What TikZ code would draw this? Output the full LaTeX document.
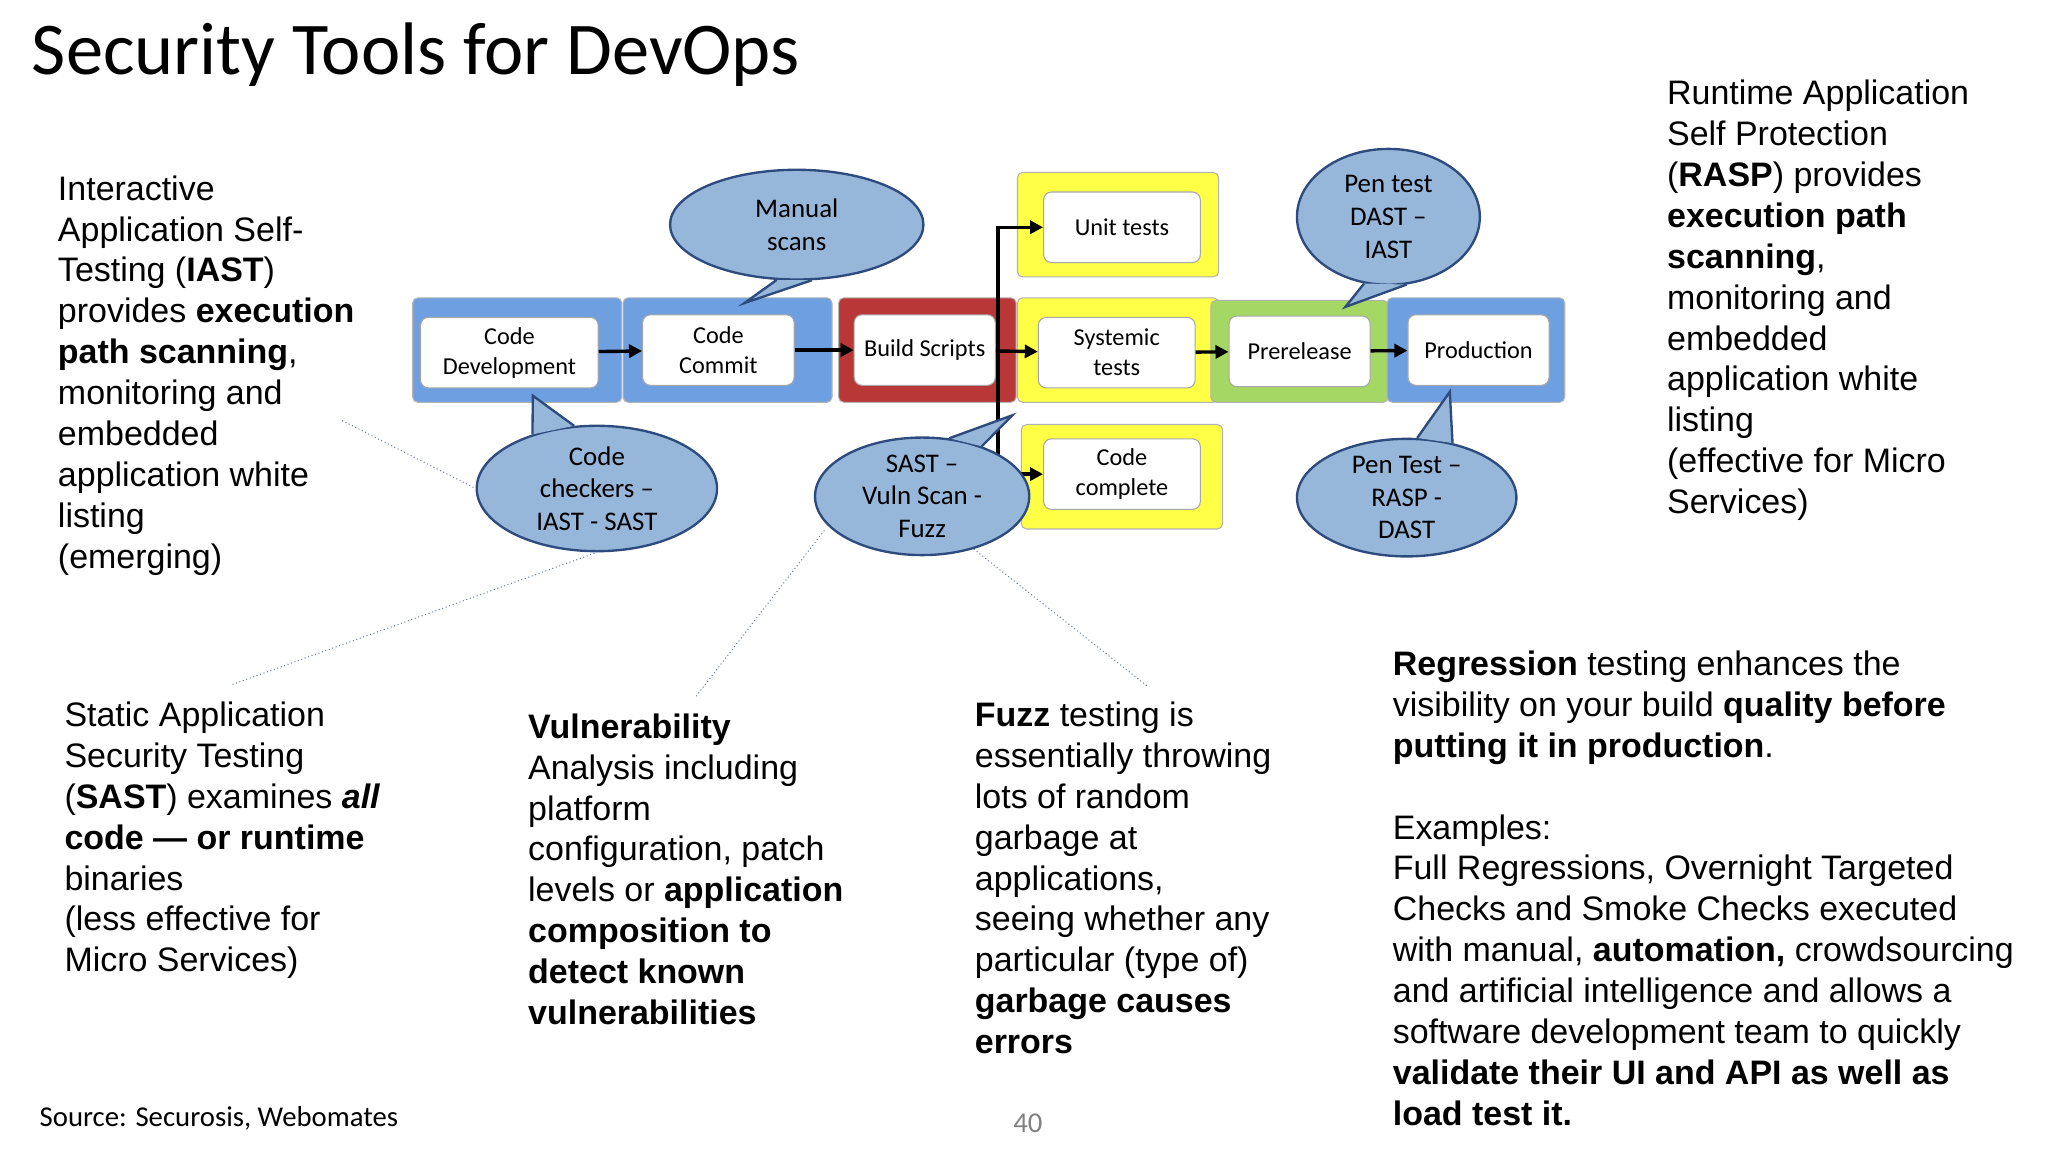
\documentclass[tikz,border=0pt]{standalone}
\usepackage{fontspec}
\setmainfont{Liberation Sans}
\newfontfamily\carlito{Carlito}
\usetikzlibrary{shapes.geometric,arrows.meta}
\definecolor{bandblue}{RGB}{110,160,225}
\definecolor{bandred}{RGB}{185,55,55}
\definecolor{bandyellow}{RGB}{255,255,70}
\definecolor{bandgreen}{RGB}{165,215,100}
\definecolor{callfill}{RGB}{150,182,218}
\definecolor{callline}{RGB}{45,75,125}
\begin{document}
\begin{tikzpicture}[x=0.5pt,y=-0.5pt]
    \tikzstyle{band} = [draw=gray!60, rounded corners=2pt, minimum width=80pt, minimum height=40pt]
    \tikzstyle{stage} = [draw=gray!70, fill=white, rounded corners=3pt, minimum height=27pt, align=center, font=\carlito\fontsize{9.3}{11.5}\selectfont, inner sep=1pt]
    \tikzstyle{flow} = [-{Triangle[length=5pt,width=5pt]}, line width=1.3pt]
    \tikzstyle{call} = [ellipse, draw=callline, line width=0.9pt, fill=callfill, align=center, font=\carlito\fontsize{10.3}{12.5}\selectfont, inner sep=0pt]
    \tikzstyle{note} = [anchor=north west, align=left, inner sep=0pt, font=\fontsize{13}{15.65}\selectfont]
    \tikzstyle{dots} = [densely dotted, draw=callline!70, line width=0.4pt]
    \useasboundingbox (0,0) rectangle (1568,882);
    % title
    \node[anchor=west, inner sep=0pt, font=\carlito\fontsize{28.5}{32}\selectfont] (title) at (24,42) {Security Tools for DevOps};
    % pipeline bands
    \node[band, fill=bandblue] (devb) at (396,268) {};
    \node[band, fill=bandblue] (comb) at (557,268) {};
    \node[band, fill=bandred, minimum width=68pt] (bldb) at (710,268) {};
    \node[band, fill=bandyellow, minimum width=77pt] (unib) at (856,172) {};
    \node[band, fill=bandyellow, minimum width=77pt] (sysb) at (856,268) {};
    \node[band, fill=bandyellow, minimum width=77pt] (cmpb) at (859,365) {};
    \node[band, fill=bandgreen, minimum width=68pt, minimum height=39pt] (preb) at (995,269) {};
    \node[band, fill=bandblue, minimum width=68pt] (prob) at (1130,268) {};
    % pipeline stages
    \node[stage, minimum width=68pt] (dev) at (390,270) {Code\\Development};
    \node[stage, minimum width=58pt] (com) at (550,268) {Code\\Commit};
    \node[stage, minimum width=54pt] (bld) at (708,268) {Build Scripts};
    \node[stage, minimum width=60pt] (uni) at (859,174) {Unit tests};
    \node[stage, minimum width=60pt] (sys) at (855,270) {Systemic\\tests};
    \node[stage, minimum width=60pt] (cmp) at (859,363) {Code\\complete};
    \node[stage, minimum width=54pt] (pre) at (995,269) {Prerelease};
    \node[stage, minimum width=54pt] (pro) at (1132,268) {Production};
    % flow arrows
    \draw[flow] (dev) -- (com);
    \draw[flow] (com) -- (bld);
    \draw[flow] (bld) -- (sys);
    \draw[flow] (sys) -- (pre);
    \draw[flow] (pre) -- (pro);
    \coordinate (fork) at (764,268);
    \draw[flow] (fork) |- (uni);
    \draw[flow] (fork) |- (cmp);
    % callouts
    \node[call, minimum width=97pt, minimum height=42pt] (man) at (610,172) {Manual\\scans};
    \fill[callfill] (man.250) -- (570,232) -- (man.285) -- cycle;
    \draw[callline, line width=0.9pt] (man.250) -- (570,232) -- (man.285);
    \node[call, minimum width=92pt, minimum height=48pt] (chk) at (457,374) {Code\\checkers –\\IAST - SAST};
    \fill[callfill] (chk.110) -- (408,303) -- (chk.140) -- cycle;
    \draw[callline, line width=0.9pt] (chk.110) -- (408,303) -- (chk.140);
    \node[call, minimum width=82pt, minimum height=45pt] (sast) at (706,380) {SAST –\\Vuln Scan -\\Fuzz};
    \fill[callfill] (sast.40) -- (775,318) -- (sast.65) -- cycle;
    \draw[callline, line width=0.9pt] (sast.40) -- (775,318) -- (sast.65);
    \node[call, minimum width=70pt, minimum height=52pt] (pen) at (1063,166) {Pen test\\DAST –\\IAST};
    \fill[callfill] (pen.250) -- (1030,235) -- (pen.285) -- cycle;
    \draw[callline, line width=0.9pt] (pen.250) -- (1030,235) -- (pen.285);
    \node[call, minimum width=84pt, minimum height=45pt] (rsp) at (1077,381) {Pen Test –\\RASP -\\DAST};
    \fill[callfill] (rsp.50) -- (1110,300) -- (rsp.80) -- cycle;
    \draw[callline, line width=0.9pt] (rsp.50) -- (1110,300) -- (rsp.80);
    % notes
    \node[note] (iast) at (44,134) {Interactive\\Application Self-\\Testing (\textbf{IAST})\\provides \textbf{execution}\\\textbf{path scanning},\\monitoring and\\embedded\\application white\\listing\\(emerging)};
    \node[note] (rasp) at (1276,61) {Runtime Application\\Self Protection\\(\textbf{RASP}) provides\\\textbf{execution path}\\\textbf{scanning},\\monitoring and\\embedded\\application white\\listing\\(effective for Micro\\Services)};
    \node[note] (stat) at (49,537) {Static Application\\Security Testing\\(\textbf{SAST}) examines \textbf{\textit{all}}\\\textbf{code — or runtime}\\binaries\\(less effective for\\Micro Services)};
    \node[note] (vuln) at (404,546) {\textbf{Vulnerability}\\Analysis including\\platform\\configuration, patch\\levels or \textbf{application}\\\textbf{composition to}\\\textbf{detect known}\\\textbf{vulnerabilities}};
    \node[note] (fuzz) at (746,537) {\textbf{Fuzz} testing is\\essentially throwing\\lots of random\\garbage at\\applications,\\seeing whether any\\particular (type of)\\\textbf{garbage causes}\\\textbf{errors}};
    \node[note] (regr) at (1066,498) {\textbf{Regression} testing enhances the\\visibility on your build \textbf{quality before}\\\textbf{putting it in production}.\\[15.65pt]Examples:\\Full Regressions, Overnight Targeted\\Checks and Smoke Checks executed\\with manual, \textbf{automation,} crowdsourcing\\and artificial intelligence and allows a\\software development team to quickly\\\textbf{validate their UI and API as well as}\\\textbf{load test it.}};
    % dotted leaders
    \draw[dots] (262,322) -- (chk.west);
    \draw[dots] (178,524) -- (chk.south);
    \draw[dots] (533,533) -- (632,405);
    \draw[dots] (878,525) -- (745,420);
    % footer
    \node[anchor=west, inner sep=0pt, font=\carlito\fontsize{11}{12}\selectfont] (src) at (30,856) {Source: Securosis, Webomates};
    \node[inner sep=0pt, text=gray, font=\carlito\fontsize{11}{12}\selectfont] (page) at (787,860) {40};
\end{tikzpicture}
\end{document}
